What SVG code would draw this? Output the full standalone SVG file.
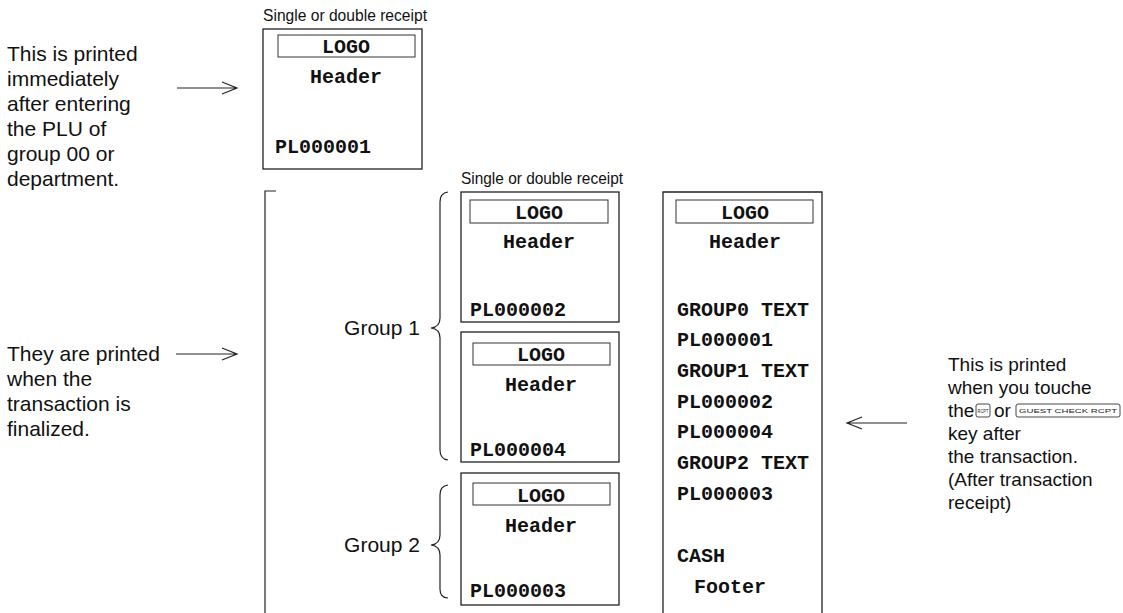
<svg xmlns="http://www.w3.org/2000/svg" width="1123" height="613" viewBox="0 0 1123 613">
<defs>
<style>
.box{fill:none;stroke:#222;stroke-width:1.3}
.logo{fill:none;stroke:#333;stroke-width:1}
.line{fill:none;stroke:#222;stroke-width:1.2}
.sans{font-family:"Liberation Sans",Arial,sans-serif;font-size:21px;fill:#111}
.sansr{font-family:"Liberation Sans",Arial,sans-serif;font-size:19px;fill:#111}
.cap{font-family:"Liberation Sans",Arial,sans-serif;font-size:17px;fill:#111}
.mono{font-family:"Liberation Mono","Courier New",monospace;font-size:20px;font-weight:bold;fill:#111}
.key{fill:#fff;stroke:#333;stroke-width:0.9}
.keyt{font-family:"Liberation Sans",Arial,sans-serif;font-size:6px;fill:#222}
</style>
</defs>
<rect width="1123" height="613" fill="#fff"/>

<g id="text-left-top" class="sans">
<text x="7" y="61">This is printed</text>
<text x="7" y="86">immediately</text>
<text x="7" y="111">after entering</text>
<text x="7" y="136">the PLU of</text>
<text x="7" y="161">group 00 or</text>
<text x="7" y="186">department.</text>
</g>

<g id="text-left-bottom" class="sans">
<text x="7" y="361">They are printed</text>
<text x="7" y="386">when the</text>
<text x="7" y="411">transaction is</text>
<text x="7" y="436">finalized.</text>
</g>

<g id="text-right" class="sansr">
<text x="948" y="371">This is printed</text>
<text x="948" y="394">when you touche</text>
<text x="948" y="417">the</text>
<rect class="key" x="976" y="404" width="14" height="13" rx="2"/>
<text class="keyt" x="983" y="412.5" text-anchor="middle" textLength="11" lengthAdjust="spacingAndGlyphs">RCPT</text>
<text x="994" y="417">or</text>
<rect class="key" x="1016" y="404" width="104" height="13" rx="2"/>
<text class="keyt" x="1068" y="412.5" text-anchor="middle" textLength="98" lengthAdjust="spacingAndGlyphs">GUEST CHECK RCPT</text>
<text x="948" y="440">key after</text>
<text x="948" y="463">the transaction.</text>
<text x="948" y="486">(After transaction</text>
<text x="948" y="509">receipt)</text>
</g>

<g id="receipt-top">
<text class="cap" x="263" y="21" textLength="164" lengthAdjust="spacingAndGlyphs">Single or double receipt</text>
<rect class="box" x="263" y="29" width="159" height="140"/>
<rect class="logo" x="278" y="35" width="137" height="22"/>
<text class="mono" x="346" y="53" text-anchor="middle">LOGO</text>
<text class="mono" x="346" y="83" text-anchor="middle">Header</text>
<text class="mono" x="275" y="153">PL000001</text>
</g>

<g id="receipt-g1a">
<text class="cap" x="461" y="184" textLength="162" lengthAdjust="spacingAndGlyphs">Single or double receipt</text>
<rect class="box" x="461" y="192" width="158" height="130"/>
<rect class="logo" x="470" y="200" width="138" height="23"/>
<text class="mono" x="539" y="219" text-anchor="middle">LOGO</text>
<text class="mono" x="539" y="248" text-anchor="middle">Header</text>
<text class="mono" x="470" y="316">PL000002</text>
</g>

<g id="receipt-g1b">
<rect class="box" x="461" y="332" width="158" height="130"/>
<rect class="logo" x="473" y="343" width="137" height="22"/>
<text class="mono" x="541" y="361" text-anchor="middle">LOGO</text>
<text class="mono" x="541" y="391" text-anchor="middle">Header</text>
<text class="mono" x="470" y="456">PL000004</text>
</g>

<g id="receipt-g2">
<rect class="box" x="461" y="473" width="158" height="132"/>
<rect class="logo" x="473" y="483" width="137" height="22"/>
<text class="mono" x="541" y="502" text-anchor="middle">LOGO</text>
<text class="mono" x="541" y="532" text-anchor="middle">Header</text>
<text class="mono" x="470" y="597">PL000003</text>
</g>

<g id="receipt-after">
<path class="box" d="M663,613 V192 H822 V613"/>
<rect class="logo" x="676" y="200" width="137" height="23"/>
<text class="mono" x="745" y="219" text-anchor="middle">LOGO</text>
<text class="mono" x="745" y="248" text-anchor="middle">Header</text>
<text class="mono" x="677" y="316">GROUP0 TEXT</text>
<text class="mono" x="677" y="346">PL000001</text>
<text class="mono" x="677" y="377">GROUP1 TEXT</text>
<text class="mono" x="677" y="408">PL000002</text>
<text class="mono" x="677" y="438">PL000004</text>
<text class="mono" x="677" y="469">GROUP2 TEXT</text>
<text class="mono" x="677" y="500">PL000003</text>
<text class="mono" x="677" y="562">CASH</text>
<text class="mono" x="694" y="593">Footer</text>
</g>

<g id="group-labels" class="sans">
<text x="420" y="335" text-anchor="end">Group 1</text>
<text x="420" y="552" text-anchor="end">Group 2</text>
</g>

<g id="connectors" class="line">
<path d="M177,88 H237 M222,82 L237,88 L222,94"/>
<path d="M176,354 H237 M222,348 L237,354 L222,360"/>
<path d="M907,423 H847 M862,417 L847,423 L862,429"/>
<path d="M276,191 H265 V613"/>
<path d="M448,192 Q440,193 440,202 V318 Q440,327 431,328 Q440,329 440,338 V450 Q440,459 448,460"/>
<path d="M448,485 Q440,486 440,495 V535 Q440,544 431,545 Q440,546 440,555 V589 Q440,598 448,598"/>
</g>
</svg>
